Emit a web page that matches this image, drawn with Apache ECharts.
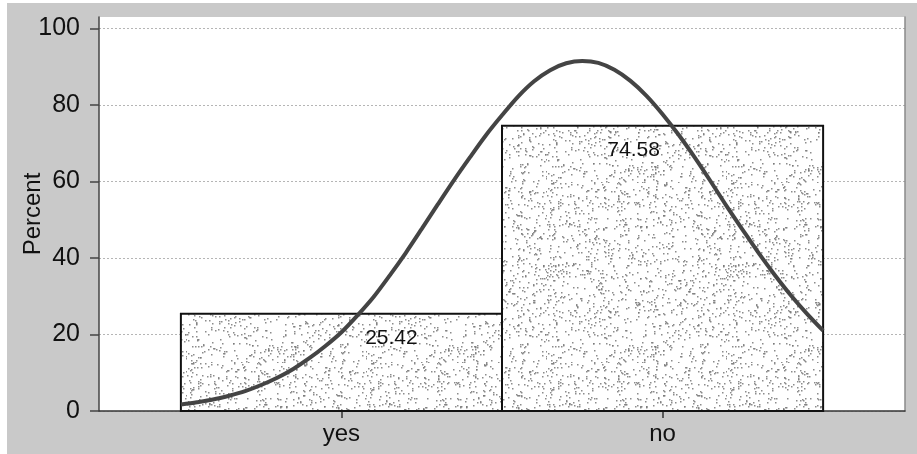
<!DOCTYPE html>
<html>
<head>
<meta charset="utf-8">
<script src="https://cdn.jsdelivr.net/npm/echarts@6/dist/echarts.min.js"></script>
<style>
  html, body { margin: 0; padding: 0; background: #ffffff; }
  #chart { position: absolute; left: 7px; top: 3px; width: 910px; height: 451px; }
</style>
</head>
<body>
<div id="chart"></div>
<script>
// ---- data ----
const categories = ['yes', 'no'];
const percentValues = [25.42, 74.58];
const yTickValues = [0, 20, 40, 60, 80, 100];
// fitted curve (x in category units: yes = 1, no = 2)
const curveX = [0.50, 0.55, 0.60, 0.65, 0.70, 0.75, 0.80, 0.85, 0.90, 0.95,
                1.00, 1.05, 1.10, 1.15, 1.20, 1.25, 1.30, 1.35, 1.40, 1.45,
                1.50, 1.55, 1.60, 1.65, 1.70, 1.75, 1.80, 1.85, 1.90, 1.95,
                2.00, 2.05, 2.10, 2.15, 2.20, 2.25, 2.30, 2.35, 2.40, 2.45, 2.50];
const curveY = [1.7, 2.3, 3.0, 4.0, 5.2, 6.8, 8.7, 11.0, 13.8, 17.0,
                20.6, 25.0, 29.8, 35.4, 41.3, 47.6, 54.0, 60.3, 66.3, 72.1,
                77.3, 82.2, 86.2, 89.1, 90.9, 91.5, 91.0, 89.2, 86.3, 82.4,
                77.6, 72.2, 66.3, 60.0, 53.5, 47.3, 41.2, 35.5, 30.2, 25.4, 21.0];

// ---- styles ----
const FONT = '"Liberation Sans", Arial, Helvetica, sans-serif';
const labelOffsets = [[50, 24], [-29, 24]];

// stipple texture (deterministic)
function makeStipple() {
  const N = 180;
  const c = document.createElement('canvas');
  c.width = N; c.height = N;
  const g = c.getContext('2d');
  g.fillStyle = '#ffffff';
  g.fillRect(0, 0, N, N);
  let s = 987654;
  const rnd = () => { s = (s * 1103515245 + 12345) & 0x7fffffff; return s / 0x7fffffff; };
  g.fillStyle = 'rgba(120,120,120,0.85)';
  for (let i = 0; i < 1400; i++) {
    const x = Math.floor(rnd() * N), y = Math.floor(rnd() * N);
    g.fillRect(x, y, 1.5, 1.5);
  }
  return c;
}
const stipple = makeStipple();

const barData = categories.map((name, i) => [i + 1, percentValues[i]]);
const curveData = curveX.map((x, i) => [x, curveY[i]]);

const chart = echarts.init(document.getElementById('chart'), null, { renderer: 'canvas' });
chart.setOption({
  backgroundColor: '#c9c9c9',
  animation: false,
  grid: { left: 92, right: 12, top: 14, bottom: 43, outerBoundsMode: 'none', containLabel: false,
          show: true, backgroundColor: '#ffffff', borderWidth: 0 },
  xAxis: {
    type: 'value', min: 0.245, max: 2.755,
    axisLine: { show: true, onZero: false, lineStyle: { color: '#333', width: 1.5 } },
    axisTick: { show: true, customValues: categories.map((c, i) => i + 1), length: 7, lineStyle: { color: '#333', width: 1.5 } },
    axisLabel: {
      customValues: categories.map((c, i) => i + 1),
      formatter: v => categories[Math.round(v) - 1] || '',
      color: '#111', fontSize: 24, fontFamily: FONT, margin: 11
    },
    splitLine: { show: false }
  },
  yAxis: [{
    type: 'value', min: 0, max: 103, interval: 20,
    name: 'Percent', nameLocation: 'middle', nameGap: 54, nameRotate: 90, nameMoveOverlap: false,
    nameTextStyle: { color: '#111', fontSize: 24, fontFamily: FONT },
    axisLine: { show: true, lineStyle: { color: '#444', width: 1.5 } },
    axisTick: { show: true, customValues: yTickValues, length: 9, lineStyle: { color: '#444', width: 1.5 } },
    axisLabel: { customValues: yTickValues, color: '#111', fontSize: 25, fontFamily: FONT, margin: 19 },
    splitLine: { show: true, lineStyle: { color: '#b5b5b5', width: 1, type: [2, 2] } }
  }, {
    type: 'value', min: 0, max: 103, position: 'right',
    axisLine: { show: true, lineStyle: { color: '#8a8a8a', width: 1.5 } },
    axisTick: { show: false }, axisLabel: { show: false }, splitLine: { show: false }
  }],
  series: [{
    type: 'custom',
    data: barData,
    z: 2,
    renderItem: function (params, api) {
      const x = api.value(0), v = api.value(1);
      const tl = api.coord([x - 0.5, v]);
      const br = api.coord([x + 0.5, 0]);
      const off = labelOffsets[params.dataIndex];
      return {
        type: 'group',
        children: [{
          type: 'rect',
          shape: { x: tl[0], y: tl[1], width: br[0] - tl[0], height: br[1] - tl[1] },
          style: { fill: { image: stipple, repeat: 'repeat' }, stroke: '#111', lineWidth: 2 }
        }, {
          type: 'text',
          style: {
            text: v.toFixed(2),
            x: (tl[0] + br[0]) / 2 + off[0], y: tl[1] + off[1],
            align: 'center', verticalAlign: 'middle',
            fontSize: 21, fontFamily: FONT, fill: '#111'
          }
        }]
      };
    }
  }, {
    type: 'line',
    data: curveData,
    smooth: 0.3,
    symbol: 'none',
    z: 5,
    lineStyle: { color: '#444', width: 4 }
  }]
});
</script>
</body>
</html>
